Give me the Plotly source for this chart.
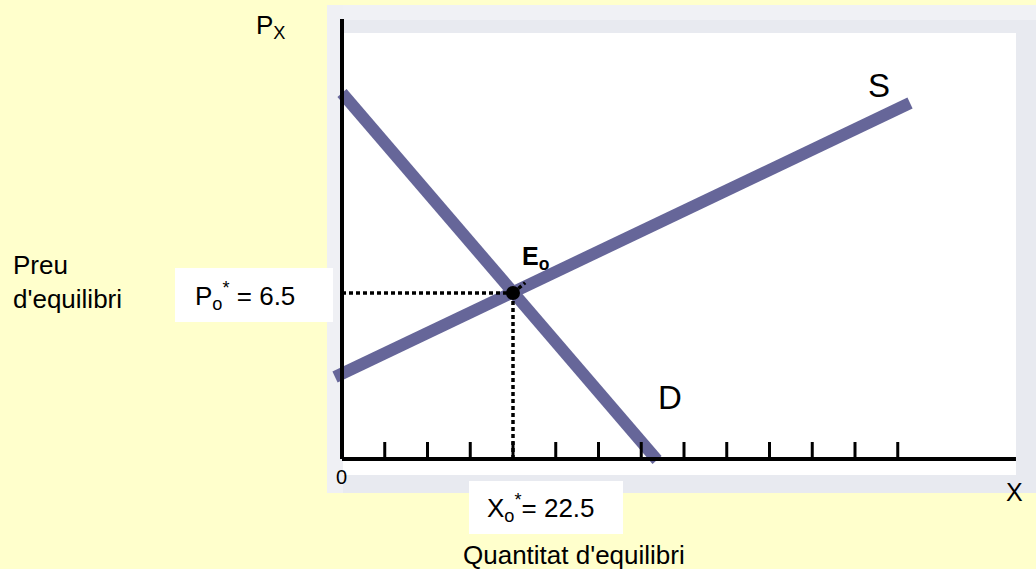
import plotly.graph_objects as go

# ---------------- data ----------------
demand_x = [0.0, 41.45]
demand_p = [14.33, -0.04]
supply_x = [-0.92, 74.74]
supply_p = [3.21, 13.94]
eq_x = 22.5
eq_p = 6.5
tick_values = [5.625, 11.25, 16.875, 22.5, 28.125, 33.75, 39.375, 45.0,
               50.625, 56.25, 61.875, 67.5, 73.125]
x_axis_end = 88.68
y_axis_end = 17.23
tick_len = 0.666

W, H = 1036, 569
BG = "#FFFFCC"
LINE = "#666699"
FONT = "Liberation Sans, Arial, sans-serif"


def px(x):
    return x / W


def py(y):
    return 1 - y / H


fig = go.Figure()

# curves
fig.add_trace(go.Scatter(x=demand_x, y=demand_p, mode="lines",
                         line=dict(color=LINE, width=12), hoverinfo="skip"))
fig.add_trace(go.Scatter(x=supply_x, y=supply_p, mode="lines",
                         line=dict(color=LINE, width=12), hoverinfo="skip"))

shapes = []
# background panels (light gradient imitation)
shapes.append(dict(type="rect", xref="paper", yref="paper", x0=px(327), x1=px(1036),
                   y0=py(493), y1=py(5), fillcolor="#E8EAF0", line=dict(width=0), layer="below"))
shapes.append(dict(type="rect", xref="paper", yref="paper", x0=px(327), x1=px(1036),
                   y0=py(20), y1=py(5), fillcolor="#F0F1F5", line=dict(width=0), layer="below"))
shapes.append(dict(type="rect", xref="paper", yref="paper", x0=px(327), x1=px(343),
                   y0=py(493), y1=py(5), fillcolor="#EFF0F4", line=dict(width=0), layer="below"))
shapes.append(dict(type="rect", xref="paper", yref="paper", x0=px(343), x1=px(1016),
                   y0=py(475), y1=py(33), fillcolor="white", line=dict(width=0), layer="below"))
# label boxes
shapes.append(dict(type="rect", xref="paper", yref="paper", x0=px(175), x1=px(333),
                   y0=py(322), y1=py(268), fillcolor="white", line=dict(width=0), layer="below"))
shapes.append(dict(type="rect", xref="paper", yref="paper", x0=px(469), x1=px(623),
                   y0=py(534), y1=py(481), fillcolor="white", line=dict(width=0), layer="below"))

# axes
shapes.append(dict(type="line", xref="x", yref="y", x0=0, x1=0, y0=0, y1=y_axis_end,
                   line=dict(color="black", width=4)))
shapes.append(dict(type="line", xref="x", yref="y", x0=0, x1=x_axis_end, y0=0, y1=0,
                   line=dict(color="black", width=4)))
for t in tick_values:
    shapes.append(dict(type="line", xref="x", yref="y", x0=t, x1=t, y0=0, y1=tick_len,
                       line=dict(color="black", width=3)))

# dotted guides
dot = dict(color="black", width=3.5, dash="4px,3px")
shapes.append(dict(type="line", xref="x", yref="y", x0=0, x1=eq_x, y0=eq_p, y1=eq_p, line=dot))
shapes.append(dict(type="line", xref="x", yref="y", x0=eq_x, x1=eq_x, y0=0, y1=eq_p, line=dot))
shapes.append(dict(type="line", xref="x", yref="y", x0=eq_x, x1=eq_x + 1.6, y0=eq_p,
                   y1=eq_p + 0.4, line=dot))

# equilibrium point
fig.add_trace(go.Scatter(x=[eq_x], y=[eq_p], mode="markers",
                         marker=dict(color="black", size=14), hoverinfo="skip"))

annotations = []


def ann(text, x, y, size, xanchor="center", align="center", bold=False):
    if bold:
        text = "<b>" + text + "</b>"
    annotations.append(dict(text=text, xref="paper", yref="paper", x=px(x), y=py(y),
                            xanchor=xanchor, yanchor="middle", showarrow=False, align=align,
                            font=dict(family=FONT, size=size, color="black")))


ann("P<sub>X</sub>", 270, 27, 26)
ann("Preu<br>d'equilibri", 11, 282, 26, xanchor="left", align="left")
ann("P<sub>o</sub><sup>*</sup> = 6.5", 245, 296, 26)
ann("E<sub>o</sub>", 535, 258, 25, bold=True)
ann("S", 879, 85, 33)
ann("D", 670, 397, 33)
ann("0", 341, 477, 20)
ann("X", 1014, 492, 25)
ann("X<sub>o</sub><sup>*</sup>= 22.5", 541, 508, 26)
ann("Quantitat d'equilibri", 574, 555, 26)

fig.update_layout(
    width=W, height=H, autosize=False,
    margin=dict(l=0, r=0, t=0, b=0, pad=0),
    paper_bgcolor=BG, plot_bgcolor="rgba(0,0,0,0)",
    showlegend=False,
    xaxis=dict(range=[-45, 91.316], visible=False, fixedrange=True),
    yaxis=dict(range=[-4.307, 17.972], visible=False, fixedrange=True),
    shapes=shapes, annotations=annotations,
)

fig.write_html("out.html", post_script="document.body.style.margin='0';",
               config={"displayModeBar": False})
